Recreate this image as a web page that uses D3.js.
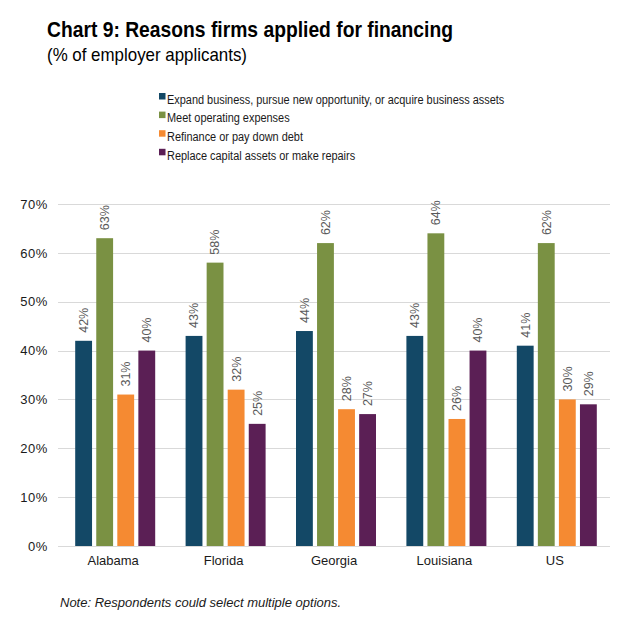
<!DOCTYPE html>
<html>
<head>
<meta charset="utf-8">
<script src="https://cdn.jsdelivr.net/npm/d3@7"></script>
<style>
  body { margin: 0; background: #fff; }
  svg { display: block; font-family: "Liberation Sans", Arial, sans-serif; }
</style>
</head>
<body>
<div id="chart"></div>
<script>
// data
const states = ['Alabama', 'Florida', 'Georgia', 'Louisiana', 'US'];
const seriesNames = [
  'Expand business, pursue new opportunity, or acquire business assets',
  'Meet operating expenses',
  'Refinance or pay down debt',
  'Replace capital assets or make repairs'
];
const expandVals = [42, 43, 44, 43, 41];
const operatingVals = [63, 58, 62, 64, 62];
const refinanceVals = [31, 32, 28, 26, 30];
const replaceVals = [40, 25, 27, 40, 29];
const yTicks = [0, 10, 20, 30, 40, 50, 60, 70];
const colors = ['#134866', '#7a9143', '#f58a32', '#5b1f55'];

const allSeries = [expandVals, operatingVals, refinanceVals, replaceVals];

const width = 634, height = 629;
const margin = { top: 204, right: 24, bottom: 83, left: 58 };

const svg = d3.select('#chart').append('svg')
  .attr('width', width)
  .attr('height', height);

// titles
svg.append('text')
  .attr('x', 47).attr('y', 37)
  .attr('font-size', '21.5px').attr('font-weight', 'bold').attr('fill', '#000')
  .attr('textLength', 406).attr('lengthAdjust', 'spacingAndGlyphs')
  .text('Chart 9: Reasons firms applied for financing');
svg.append('text')
  .attr('x', 47).attr('y', 61)
  .attr('font-size', '18.5px').attr('fill', '#000')
  .attr('textLength', 200).attr('lengthAdjust', 'spacingAndGlyphs')
  .text('(% of employer applicants)');

// legend (narrow face in the original, squeezed horizontally here)
const legend = svg.append('g').attr('transform', 'translate(159, 99)');
seriesNames.forEach((name, i) => {
  const row = legend.append('g').attr('transform', `translate(0, ${i * 18.6})`);
  row.append('rect')
    .attr('x', 0).attr('y', -6).attr('width', 6.5).attr('height', 6.5)
    .attr('fill', colors[i]);
  row.append('text')
    .attr('transform', 'translate(8, 0) scale(0.81, 1)')
    .attr('dy', '0.35em')
    .attr('font-size', '13.5px').attr('fill', '#1a1a1a')
    .text(name);
});

// scales
const x0 = d3.scaleBand()
  .domain(states)
  .range([margin.left, width - margin.right])
  .paddingInner(0).paddingOuter(0);

const x1 = d3.scaleBand()
  .domain(d3.range(seriesNames.length))
  .range([x0.bandwidth() / 2 - 38, x0.bandwidth() / 2 + 42])
  .paddingInner(0.2).paddingOuter(0);

const y = d3.scaleLinear()
  .domain([0, 70])
  .range([height - margin.bottom, margin.top]);

// gridlines
svg.append('g')
  .selectAll('line')
  .data(yTicks)
  .join('line')
  .attr('x1', margin.left).attr('x2', width - margin.right)
  .attr('y1', d => Math.round(y(d)) + 0.5).attr('y2', d => Math.round(y(d)) + 0.5)
  .attr('stroke', '#d9d9d9').attr('stroke-width', 1);

// y axis labels
const yAxis = svg.append('g')
  .attr('transform', `translate(${margin.left - 10}, 0)`)
  .call(d3.axisLeft(y).tickValues(yTicks).tickFormat(d => d + '%').tickSize(0).tickPadding(0));
yAxis.select('.domain').remove();
yAxis.selectAll('text')
  .attr('font-family', '"Liberation Sans", Arial, sans-serif')
  .attr('font-size', '13px').attr('fill', '#1a1a1a')
  .attr('letter-spacing', '0.6px');

// x axis labels
const xAxis = svg.append('g')
  .attr('transform', `translate(0, ${height - margin.bottom})`)
  .call(d3.axisBottom(x0).tickSize(0).tickPadding(10));
xAxis.select('.domain').remove();
xAxis.selectAll('text')
  .attr('font-family', '"Liberation Sans", Arial, sans-serif')
  .attr('font-size', '13px').attr('fill', '#1a1a1a');

// bars
const groups = svg.append('g')
  .selectAll('g')
  .data(states)
  .join('g')
  .attr('transform', d => `translate(${x0(d)}, 0)`);

groups.each((state, si, nodes) => {
  const g = d3.select(nodes[si]);
  allSeries.forEach((vals, k) => {
    const v = vals[si];
    g.append('rect')
      .attr('x', x1(k))
      .attr('y', y(v))
      .attr('width', x1.bandwidth())
      .attr('height', y(0) - y(v))
      .attr('fill', colors[k]);
    const cx = x1(k) + x1.bandwidth() / 2;
    const ty = y(v) - 8;
    g.append('text')
      .attr('transform', `translate(${cx}, ${ty}) rotate(-90)`)
      .attr('dy', '0.35em')
      .attr('font-size', '12.5px').attr('fill', '#595959')
      .text(v + '%');
  });
});

// note
svg.append('text')
  .attr('x', 60).attr('y', 607)
  .attr('font-size', '13px').attr('font-style', 'italic').attr('fill', '#1a1a1a')
  .text('Note: Respondents could select multiple options.');
</script>
</body>
</html>
